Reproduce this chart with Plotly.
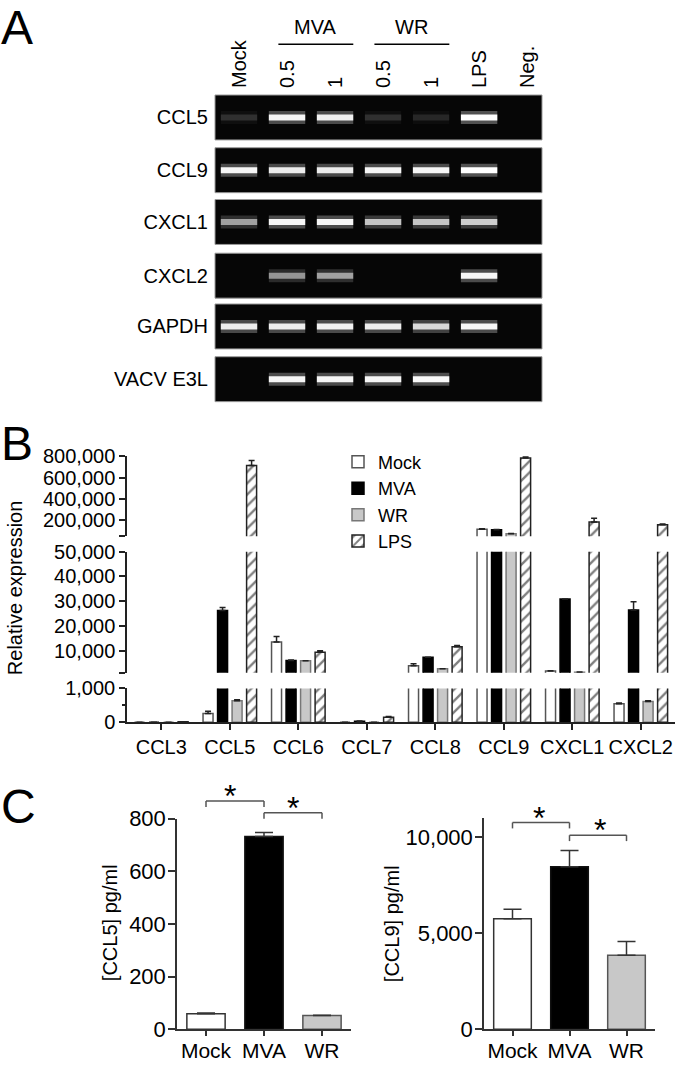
import plotly.graph_objects as go

W, H = 680, 1067
FONT = "Liberation Sans, Arial, sans-serif"

# ---- A: RT-PCR gels, band brightness per lane (0 = no band, 1 = saturated)
lanes = ["Mock", "0.5", "1", "0.5", "1", "LPS", "Neg."]
genes = ["CCL5", "CCL9", "CXCL1", "CXCL2", "GAPDH", "VACV E3L"]
ccl5_band = [0.14, 0.95, 0.92, 0.14, 0.11, 1.0, 0]
ccl9_band = [0.95, 0.9, 0.9, 0.95, 0.95, 1.0, 0]
cxcl1_band = [0.55, 0.95, 0.95, 0.7, 0.7, 0.75, 0]
cxcl2_band = [0, 0.5, 0.55, 0, 0, 0.95, 0]
gapdh_band = [0.9, 0.9, 0.92, 0.9, 0.8, 0.95, 0]
e3l_band = [0, 0.95, 0.95, 0.95, 0.97, 0, 0]
gel_bands = [ccl5_band, ccl9_band, cxcl1_band, cxcl2_band, gapdh_band, e3l_band]
lane_groups = ["MVA", "WR"]

# ---- B: relative expression (mean, + error; None = no visible error bar)
chemokines = ["CCL3", "CCL5", "CCL6", "CCL7", "CCL8", "CCL9", "CXCL1", "CXCL2"]
mock_rel = [0, 260, 13500, 0, 3900, 115000, 1700, 550]
mock_err = [None, 65, 2200, None, 800, 4000, 150, 20]
mva_rel = [0, 26200, 6000, 30, 7300, 110000, 30900, 26400]
mva_err = [None, 1200, 200, 5, None, 3000, None, 3400]
wr_rel = [0, 640, 5900, 0, 2700, 72000, 1280, 615]
wr_err = [None, 25, None, None, None, 2000, 80, 20]
lps_rel = [15, 715000, 9300, 150, 11550, 784000, 182000, 157000]
lps_err = [None, 46000, 650, 20, 500, 12000, 37000, 6000]

# ---- C: ELISA
elisa_groups = ["Mock", "MVA", "WR"]
ccl5_pgml = [59, 732, 52]
ccl5_err = [3, 15, 1]
ccl9_pgml = [5750, 8450, 3850]
ccl9_err = [490, 850, 710]


def fx(p):
    return p / W


def fy(p):
    return 1 - p / H


def xn(k):
    return "x" if k == 1 else f"x{k}"


def yn(k):
    return "y" if k == 1 else f"y{k}"


def xkey(k):
    return "xaxis" if k == 1 else f"xaxis{k}"


def ykey(k):
    return "yaxis" if k == 1 else f"yaxis{k}"


fig = go.Figure()
layout = {}
shapes = []
annotations = []

# ---------------- panel A ----------------
gel_tops = [85, 139, 192, 247, 299, 353]
gel_h = 46
for i, (gene, band) in enumerate(zip(genes, gel_bands)):
    k = i + 1
    # soft glow + bright core of each band
    for lw, alpha in [(13, 0.3), (6, 1.0)]:
        fig.add_trace(go.Scatter(
            x=list(range(len(lanes))), y=[0] * len(lanes), mode="markers",
            marker=dict(symbol="line-ew", size=26, color="white",
                        line=dict(width=lw, color=[f"rgba(255,255,255,{alpha * v:.2f})" for v in band])),
            xaxis=xn(k), yaxis=yn(k), hoverinfo="skip", showlegend=False,
        ))
    top = gel_tops[i]
    layout[xkey(k)] = dict(
        domain=[fx(215), fx(542)], range=[-0.5, 6.31], anchor=yn(k),
        showgrid=False, zeroline=False, showline=False, ticks="", side="top",
        showticklabels=(k == 1), tickmode="array", tickvals=list(range(len(lanes))),
        ticktext=lanes, tickangle=-90, ticklabelstandoff=6, tickfont=dict(size=20),
    )
    layout[ykey(k)] = dict(
        domain=[fy(top + gel_h), fy(top)], range=[-1, 1], anchor=xn(k),
        showgrid=False, zeroline=False, showline=False, ticks="",
        tickmode="array", tickvals=[0], ticktext=[gene],
        ticklabelstandoff=6, tickfont=dict(size=20),
    )
    shapes.append(dict(type="rect", xref=f"{xn(k)} domain", yref=f"{yn(k)} domain",
                       x0=0, x1=1, y0=0, y1=1, fillcolor="#060606",
                       line=dict(color="#9a9a9a", width=1), layer="below"))

for name, lo, hi in zip(lane_groups, [1, 3], [2, 4]):
    annotations.append(dict(text=name, x=(lo + hi) / 2 + 0.1, xref="x", y=fy(15), yref="paper",
                            showarrow=False, font=dict(size=20), xanchor="center", yanchor="middle"))
    shapes.append(dict(type="line", xref="x", yref="paper", x0=lo - 0.18, x1=hi + 0.38,
                       y0=fy(33), y1=fy(33), line=dict(color="black", width=1.5)))

# ---------------- panel B (broken y axis: three stacked segments) ----------------
b_segments = [
    (7, 455, 536.7, [50000, 800000], [50000, 200000, 400000, 600000, 800000]),
    (8, 552.7, 676.7, [1000, 50000], [1000, 10000, 20000, 30000, 40000, 50000]),
    (9, 692.7, 727.3, [0, 1000], [0, 1000]),
]
series = [
    ("Mock", mock_rel, mock_err, dict(color="white", line=dict(color="#555", width=1.5))),
    ("MVA", mva_rel, mva_err, dict(color="black", line=dict(color="black", width=1.5))),
    ("WR", wr_rel, wr_err, dict(color="#c8c8c8", line=dict(color="#777", width=1.5))),
    ("LPS", lps_rel, lps_err, dict(color="white", line=dict(color="#222", width=1.5),
                                    pattern=dict(shape="/", fgcolor="black", bgcolor="white",
                                                 size=8, solidity=0.3))),
]
offsets = [-0.39, -0.178, 0.034, 0.246]

for k, top_px, bot_px, rng, tvals in b_segments:
    for (name, vals, errs, mk), off in zip(series, offsets):
        fig.add_trace(go.Bar(
            x=chemokines, y=vals, name=name, marker=mk, width=0.146, offset=off,
            error_y=dict(type="data", symmetric=False, array=errs, arrayminus=[0] * len(errs),
                         color="#222", thickness=1.5, width=3),
            xaxis=xn(k), yaxis=yn(k), showlegend=(k == 9),
        ))
    ttext = [f"{v:,}" for v in tvals]
    if k != 9:
        ttext[0] = ""
    layout[ykey(k)] = dict(
        domain=[fy(bot_px), fy(top_px)], range=rng, anchor=xn(k),
        showgrid=False, zeroline=False, showline=True, linecolor="#222", linewidth=1.5,
        ticks="outside", ticklen=6, tickwidth=1.5, tickcolor="#222",
        tickmode="array", tickvals=tvals, ticktext=ttext, tickfont=dict(size=20),
    )
    layout[xkey(k)] = dict(
        domain=[fx(127), fx(675)], range=[-0.5, 7.5], anchor=yn(k), type="category",
        categoryorder="array", categoryarray=chemokines,
        showgrid=False, zeroline=False, showline=(k == 9), linecolor="#222", linewidth=1.5,
        ticks="outside" if k == 9 else "", ticklen=6, tickwidth=1.5, tickcolor="#222",
        showticklabels=(k == 9), tickfont=dict(size=20),
    )
layout["yaxis9"]["minor"] = dict(tickvals=[500], ticks="outside", ticklen=3, tickcolor="#222")

annotations.append(dict(text="Relative expression", x=fx(15), y=fy(590), xref="paper", yref="paper",
                        textangle=-90, showarrow=False, font=dict(size=20),
                        xanchor="center", yanchor="middle"))

# ---------------- panel C ----------------
c_panels = [
    (10, ccl5_pgml, ccl5_err, 177, 351, 826, [0, 800], [0, 200, 400, 600, 800], "[CCL5] pg/ml", 110,
     [(0, 1, 808), (1, 2, 820)], [(0.42, 797), (1.5, 809)]),
    (11, ccl9_pgml, ccl9_err, 484, 655, 825, [0, 11000], [0, 5000, 10000], "[CCL9] pg/ml", 392,
     [(0, 1, 830), (1, 2, 843)], [(0.47, 819), (1.54, 832)]),
]
for k, vals, errs, x0, x1, top_px, rng, tvals, title, tx, brackets, stars in c_panels:
    fig.add_trace(go.Bar(
        x=elisa_groups, y=vals, width=0.66,
        marker=dict(color=["white", "black", "#c8c8c8"],
                    line=dict(color=["#333", "#111", "#555"], width=1.5)),
        error_y=dict(type="data", symmetric=False, array=errs, arrayminus=[0] * len(errs),
                     color="#333", thickness=1.5, width=9),
        xaxis=xn(k), yaxis=yn(k), showlegend=False,
    ))
    layout[xkey(k)] = dict(
        domain=[fx(x0), fx(x1)], range=[-0.5, 2.5], anchor=yn(k), type="category",
        showgrid=False, zeroline=False, showline=True, linecolor="#333", linewidth=1.5,
        ticks="outside", ticklen=5, tickwidth=1.5, tickcolor="#333", tickfont=dict(size=21),
        ticklabelstandoff=-3,
    )
    layout[ykey(k)] = dict(
        domain=[fy(1041.7), fy(top_px)], range=rng, anchor=xn(k),
        showgrid=False, zeroline=False, showline=True, linecolor="#333", linewidth=1.5,
        ticks="outside", ticklen=7, tickwidth=1.5, tickcolor="#333",
        tickmode="array", tickvals=tvals, ticktext=[f"{v:,}" for v in tvals],
        tickfont=dict(size=22), ticklabelstandoff=-2,
    )
    annotations.append(dict(text=title, x=fx(tx), y=fy(933), xref="paper", yref="paper",
                            textangle=-90, showarrow=False, font=dict(size=20),
                            xanchor="center", yanchor="middle"))
    for a, b, yb in brackets:
        for sx0, sx1, sy0, sy1 in [(a, b, yb, yb), (a, a, yb, yb + 6), (b, b, yb, yb + 6)]:
            shapes.append(dict(type="line", xref=xn(k), yref="paper", x0=sx0, x1=sx1,
                               y0=fy(sy0), y1=fy(sy1), line=dict(color="#555", width=1.5)))
    for sx, sy in stars:
        annotations.append(dict(text="*", x=sx, xref=xn(k), y=fy(sy + 6), yref="paper",
                                showarrow=False, font=dict(size=32), xanchor="center", yanchor="middle"))

# panel letters
for letter, ly in [("A", -12), ("B", 414), ("C", 785)]:
    annotations.append(dict(text=letter, x=0, y=fy(ly), xref="paper", yref="paper",
                            xanchor="left", yanchor="top", showarrow=False, borderpad=0,
                            font=dict(size=48)))

fig.update_layout(
    width=W, height=H, margin=dict(l=0, r=0, t=0, b=0),
    paper_bgcolor="white", plot_bgcolor="white",
    font=dict(family=FONT, color="black"),
    barmode="overlay",
    legend=dict(x=fx(338), y=fy(442), xanchor="left", yanchor="top", font=dict(size=18),
                bgcolor="rgba(0,0,0,0)", tracegroupgap=0),
    shapes=shapes, annotations=annotations,
    **layout,
)

fig.write_html("out.html", config={"displayModeBar": False},
               post_script="document.body.style.margin='0';")
